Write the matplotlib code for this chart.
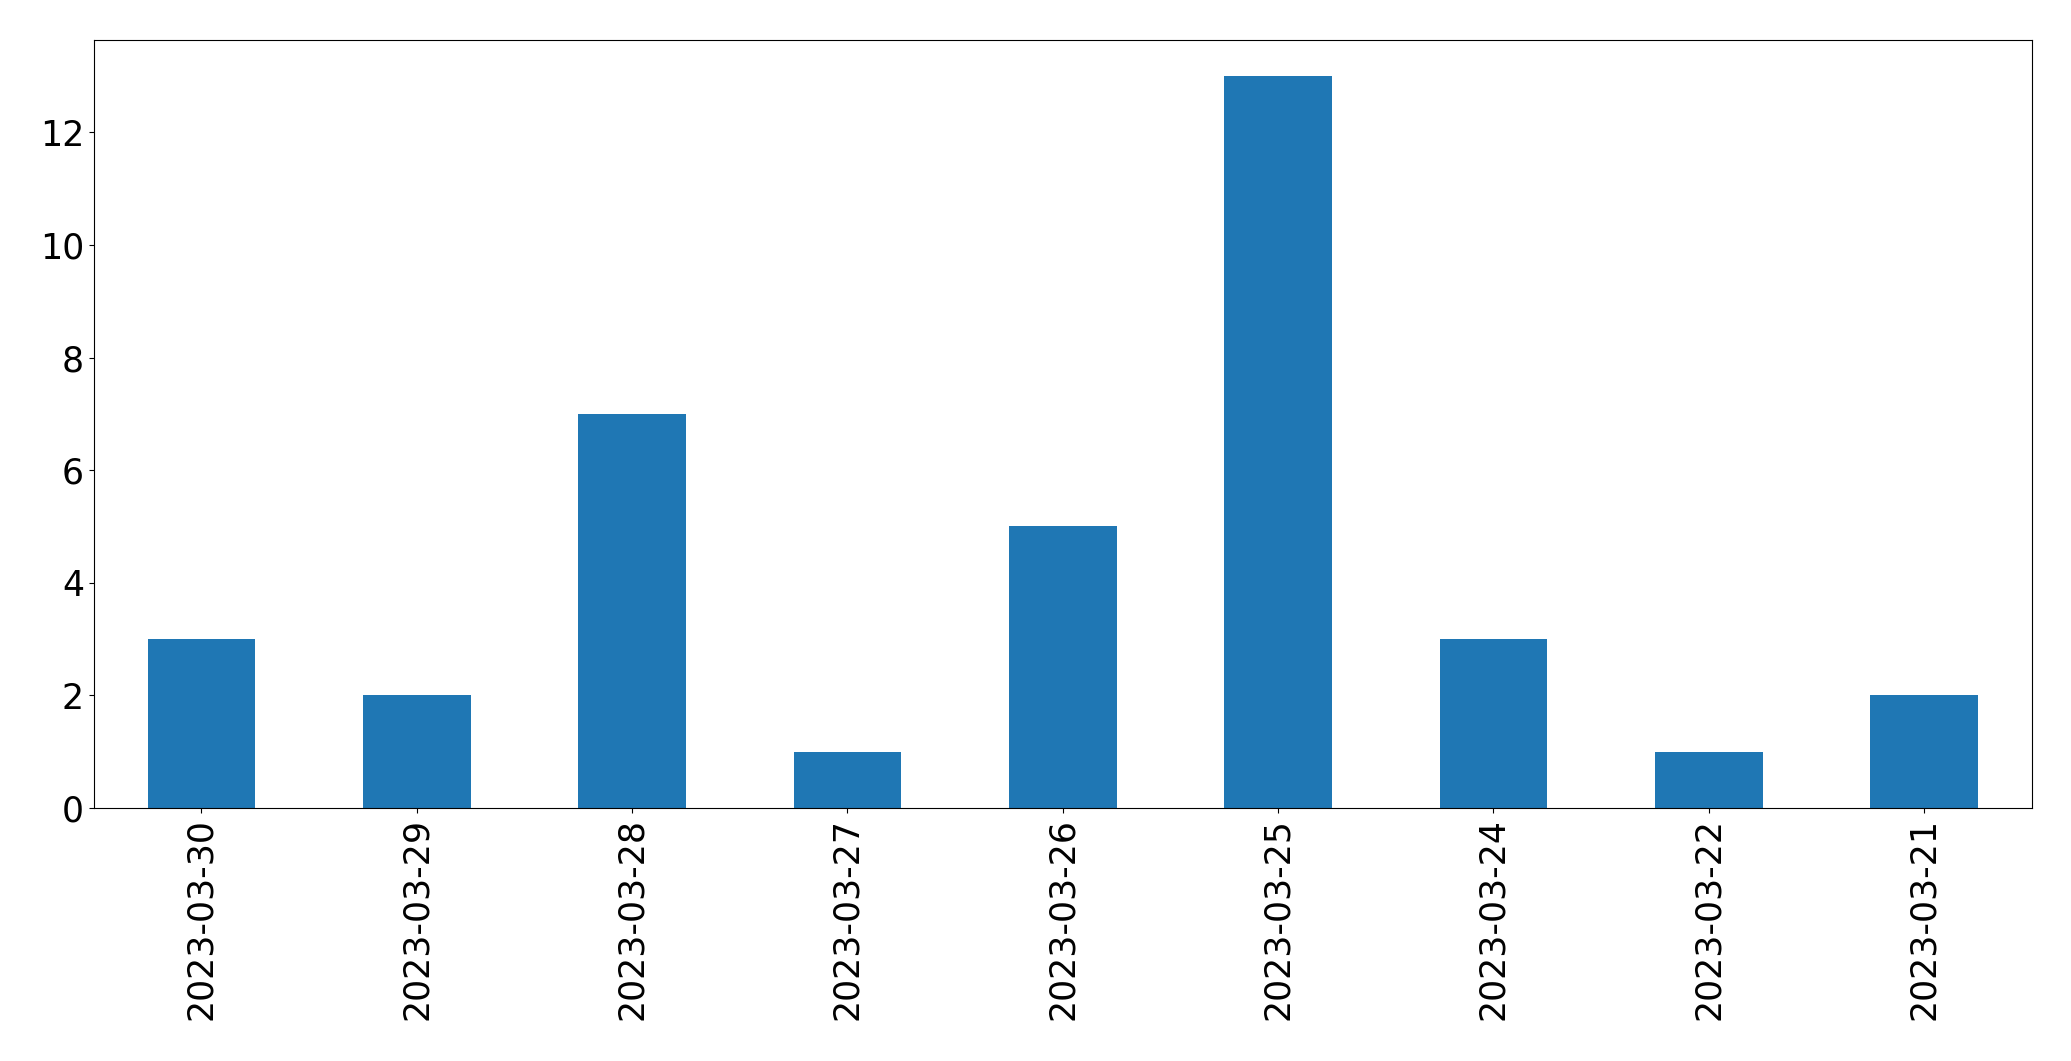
import matplotlib
matplotlib.use("Agg")
import matplotlib.pyplot as plt
import pandas as pd

dates = ["2023-03-30", "2023-03-29", "2023-03-28", "2023-03-27", "2023-03-26",
         "2023-03-25", "2023-03-24", "2023-03-22", "2023-03-21"]
counts = [3, 2, 7, 1, 5, 13, 3, 1, 2]

s = pd.Series(counts, index=dates)

fig = plt.figure(figsize=(20.71, 10.61), dpi=100)
ax = fig.add_axes([0.0453, 0.2385, 0.9357, 0.7242])
s.plot(kind="bar", ax=ax, fontsize=25, color="#1f77b4")
plt.savefig("out.png", dpi=100)
